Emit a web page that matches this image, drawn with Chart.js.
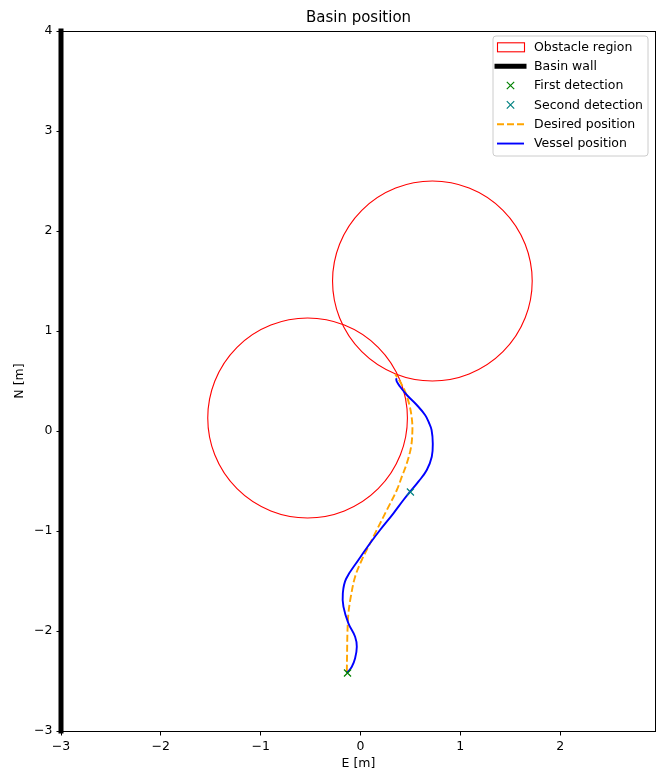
<!DOCTYPE html>
<html>
<head>
<meta charset="utf-8">
<script src="https://cdn.jsdelivr.net/npm/chart.js@4.4.1/dist/chart.umd.min.js"></script>
<style>
  html, body { margin: 0; padding: 0; background: #ffffff; }
  canvas { display: block; }
</style>
</head>
<body>
<canvas id="basin" width="657" height="773"></canvas>
<script>
// Axis ranges and tick values (metres)
const xTicks = [-3, -2, -1, 0, 1, 2];
const yTicks = [-3, -2, -1, 0, 1, 2, 3, 4];
const xRange = [-3, 2.96];
const yRange = [-3, 4];

// Basin wall along the west edge
const wallE = [-3, -3];
const wallN = [-3, 4];

// Circular obstacle regions: centre east, centre north, radius
const obstacleE = [-0.53, 0.72];
const obstacleN = [0.13, 1.50];
const obstacleR = [1.0, 1.0];

// Detection events
const firstDetectionE = [-0.13];
const firstDetectionN = [-2.42];
const secondDetectionE = [0.50];
const secondDetectionN = [-0.61];

// Reference trajectory
const desiredE = [-0.137, -0.134, -0.131, -0.121, -0.097, -0.054, 0.013, 0.079, 0.163, 0.264, 0.364, 0.414, 0.464, 0.507, 0.520, 0.514, 0.490, 0.447, 0.397, 0.347];
const desiredN = [-2.407, -2.200, -2.020, -1.823, -1.657, -1.457, -1.290, -1.157, -0.990, -0.790, -0.590, -0.457, -0.323, -0.157, 0.010, 0.127, 0.260, 0.393, 0.493, 0.567];

// Measured vessel track
const vesselE = [-0.137, -0.087, -0.054, -0.037, -0.054, -0.121, -0.171, -0.177, -0.145, -0.021, 0.096, 0.196, 0.330, 0.430, 0.497, 0.580, 0.664, 0.714, 0.724, 0.712, 0.685, 0.647, 0.564, 0.464, 0.397, 0.364, 0.357];
const vesselN = [-2.423, -2.357, -2.273, -2.157, -2.057, -1.923, -1.757, -1.623, -1.480, -1.290, -1.123, -0.990, -0.823, -0.690, -0.607, -0.507, -0.390, -0.257, -0.123, 0.010, 0.085, 0.160, 0.260, 0.360, 0.443, 0.493, 0.527];

const FONT = "'DejaVu Sans', 'Liberation Sans', sans-serif";
const pts = (xs, ys) => xs.map((x, i) => ({ x: x, y: ys[i] }));
const fmt = v => (v < 0 ? '\u2212' + Math.abs(v) : String(v));

// Obstacle circles, drawn through the chart scales
const obstaclePlugin = {
  id: 'obstacles',
  beforeDatasetsDraw(chart) {
    const { ctx, scales: { x, y } } = chart;
    ctx.save();
    ctx.strokeStyle = '#ff0000';
    ctx.lineWidth = 1.1;
    obstacleE.forEach((e, i) => {
      const cx = x.getPixelForValue(e);
      const cy = y.getPixelForValue(obstacleN[i]);
      const rx = Math.abs(x.getPixelForValue(e + obstacleR[i]) - cx);
      const ry = Math.abs(y.getPixelForValue(obstacleN[i] + obstacleR[i]) - cy);
      ctx.beginPath();
      ctx.ellipse(cx, cy, rx, ry, 0, 0, Math.PI * 2);
      ctx.stroke();
    });
    ctx.restore();
  }
};

// Frame, titles and legend box
const framePlugin = {
  id: 'frame',
  afterDraw(chart) {
    const { ctx, chartArea: a } = chart;
    ctx.save();
    ctx.strokeStyle = '#000';
    ctx.lineWidth = 1;
    ctx.strokeRect(Math.round(a.left) + 0.5, Math.round(a.top) + 0.5,
                   Math.round(a.right - a.left) - 1, Math.round(a.bottom - a.top));

    ctx.fillStyle = '#000';
    ctx.textAlign = 'center';
    ctx.textBaseline = 'alphabetic';
    ctx.font = '15px ' + FONT;
    ctx.fillText('Basin position', (a.left + a.right) / 2, 22);
    ctx.font = '12.5px ' + FONT;
    ctx.fillText('E [m]', (a.left + a.right) / 2, 767);
    ctx.save();
    ctx.translate(22.5, (a.top + a.bottom) / 2);
    ctx.rotate(-Math.PI / 2);
    ctx.fillText('N [m]', 0, 0);
    ctx.restore();

    // Legend
    const bx = 493, by = 36, bw = 155, bh = 120, r = 3;
    ctx.beginPath();
    ctx.moveTo(bx + r, by);
    ctx.arcTo(bx + bw, by, bx + bw, by + bh, r);
    ctx.arcTo(bx + bw, by + bh, bx, by + bh, r);
    ctx.arcTo(bx, by + bh, bx, by, r);
    ctx.arcTo(bx, by, bx + bw, by, r);
    ctx.closePath();
    ctx.fillStyle = 'rgba(255,255,255,0.8)';
    ctx.fill();
    ctx.strokeStyle = '#cccccc';
    ctx.lineWidth = 1;
    ctx.stroke();

    const rows = ['Obstacle region', 'Basin wall', 'First detection', 'Second detection', 'Desired position', 'Vessel position'];
    const h0 = 497, h1 = 524, hc = (h0 + h1) / 2, tx = 534;
    rows.forEach((label, i) => {
      const cy = 46.8 + i * 19.35;
      ctx.save();
      if (i === 0) {
        ctx.strokeStyle = '#ff0000';
        ctx.lineWidth = 1.1;
        ctx.strokeRect(h0 + 0.5, cy - 4, h1 - h0, 9);
      } else if (i === 1) {
        ctx.strokeStyle = '#000';
        ctx.lineWidth = 5;
        ctx.lineCap = 'square';
        ctx.beginPath(); ctx.moveTo(h0, cy); ctx.lineTo(h1, cy); ctx.stroke();
      } else if (i === 2 || i === 3) {
        ctx.strokeStyle = i === 2 ? '#008000' : '#008080';
        ctx.lineWidth = 1.2;
        const s = 3.7;
        ctx.beginPath();
        ctx.moveTo(hc - s, cy - s); ctx.lineTo(hc + s, cy + s);
        ctx.moveTo(hc - s, cy + s); ctx.lineTo(hc + s, cy - s);
        ctx.stroke();
      } else if (i === 4) {
        ctx.strokeStyle = '#ffa500';
        ctx.lineWidth = 1.9;
        ctx.setLineDash([7, 3]);
        ctx.beginPath(); ctx.moveTo(h0, cy); ctx.lineTo(h1, cy); ctx.stroke();
      } else {
        ctx.strokeStyle = '#0000ff';
        ctx.lineWidth = 1.9;
        ctx.beginPath(); ctx.moveTo(h0, cy); ctx.lineTo(h1, cy); ctx.stroke();
      }
      ctx.restore();
      ctx.fillStyle = '#000';
      ctx.font = '12.5px ' + FONT;
      ctx.textAlign = 'left';
      ctx.textBaseline = 'middle';
      ctx.fillText(label, tx, cy + 0.5);
    });
    ctx.restore();
  }
};

const axisCommon = {
  type: 'linear',
  grid: { display: true, drawOnChartArea: false, drawTicks: true, tickLength: 4.5, tickWidth: 1, tickColor: '#000' },
  border: { display: false },
  ticks: { color: '#000', font: { family: FONT, size: 12.5 }, padding: 4, callback: v => fmt(v) }
};

const noPad = s => { s.paddingLeft = 0; s.paddingRight = 0; s.paddingTop = 0; s.paddingBottom = 0; };

new Chart(document.getElementById('basin'), {
  type: 'scatter',
  data: {
    datasets: [
      {
        label: 'First detection',
        data: pts(firstDetectionE, firstDetectionN),
        pointStyle: 'crossRot', pointRadius: 5, borderColor: '#008000', borderWidth: 1.2,
        backgroundColor: '#008000', order: 0
      },
      {
        label: 'Second detection',
        data: pts(secondDetectionE, secondDetectionN),
        pointStyle: 'crossRot', pointRadius: 5, borderColor: '#008080', borderWidth: 1.2,
        backgroundColor: '#008080', order: 0
      },
      {
        label: 'Vessel position',
        data: pts(vesselE, vesselN),
        showLine: true, pointRadius: 0, borderColor: '#0000ff', borderWidth: 1.9,
        tension: 0.4, fill: false, order: 1
      },
      {
        label: 'Desired position',
        data: pts(desiredE, desiredN),
        showLine: true, pointRadius: 0, borderColor: '#ffa500', borderWidth: 1.9,
        borderDash: [7, 3], tension: 0.35, fill: false, order: 2
      },
      {
        label: 'Basin wall',
        data: pts(wallE, wallN),
        showLine: true, pointRadius: 0, borderColor: '#000000', borderWidth: 5,
        borderCapStyle: 'square', clip: false, order: 3
      }
    ]
  },
  options: {
    responsive: false,
    animation: false,
    devicePixelRatio: 1,
    layout: { autoPadding: false, padding: { top: 31, right: 1, left: 0, bottom: 0 } },
    plugins: { legend: { display: false }, title: { display: false }, tooltip: { enabled: false } },
    scales: {
      x: Object.assign({}, axisCommon, {
        min: xRange[0], max: xRange[1],
        afterBuildTicks: s => { s.ticks = xTicks.map(v => ({ value: v })); },
        afterFit: s => { s.height = 42; noPad(s); }
      }),
      y: Object.assign({}, axisCommon, {
        min: yRange[0], max: yRange[1],
        afterBuildTicks: s => { s.ticks = yTicks.map(v => ({ value: v })); },
        afterFit: s => { s.width = 61; noPad(s); }
      })
    }
  },
  plugins: [obstaclePlugin, framePlugin]
});
</script>
</body>
</html>
